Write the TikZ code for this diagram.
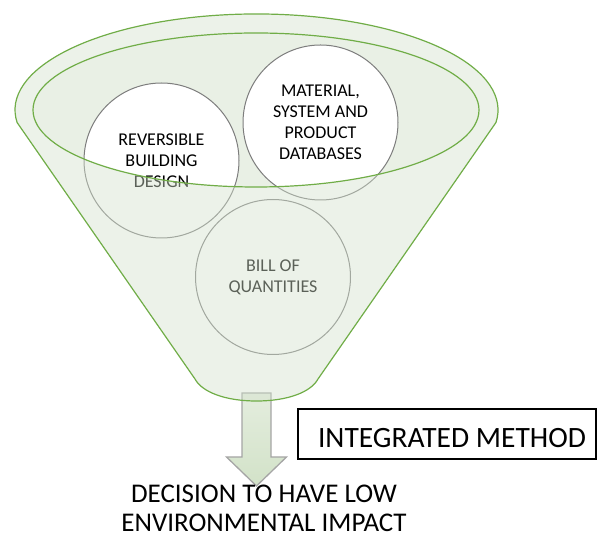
\documentclass[tikz,border=0pt]{standalone}
\usepackage{fontspec}
\setmainfont{Carlito}

\definecolor{funnelgreen}{RGB}{112,173,71}
\definecolor{funnelback}{RGB}{233,240,229}
\definecolor{funnelfront}{RGB}{211,225,204}
\definecolor{bubblegray}{RGB}{125,125,125}
\definecolor{arrowgray}{RGB}{165,165,165}
\definecolor{arrowtop}{RGB}{228,237,222}
\definecolor{arrowbottom}{RGB}{210,226,200}

% outline of the funnel (outer rim, sides and neck)
\newcommand{\funnelpath}{(17.1,415.5) arc[start angle=187.5, end angle=-7.5, x radius=241.5, y radius=96]
  -- (318,159) .. controls (311,146) and (288,137) .. (256.5,137)
  .. controls (225,137) and (202,146) .. (195,159) -- cycle}

\begin{document}
\begin{tikzpicture}[x=1pt, y=1pt, line width=1pt,
  bubble/.style={circle, draw=bubblegray, fill=white, minimum size=155pt, inner sep=0pt,
    align=center, font=\fontsize{18}{21}\selectfont},
  rim/.style={draw=funnelgreen, line width=1.2pt}]

  \useasboundingbox (0,0) rectangle (597,538);

  % Opening of the funnel
  \fill[funnelback] (256,428) ellipse [x radius=223, y radius=77];

  % The three inputs
  \node[bubble] (design) at (161.5,377.5) {REVERSIBLE\\BUILDING\\DESIGN};
  \node[bubble] (databases) at (320.5,415.5) {MATERIAL,\\SYSTEM AND\\PRODUCT\\DATABASES};
  \node[bubble] (quantities) at (273,261) {BILL OF\\QUANTITIES};

  % Output arrow below the neck
  \coordinate (neck) at (256.5,145);
  \draw[arrowgray, line width=1.3pt, top color=arrowtop, bottom color=arrowbottom]
    (neck) ++(-14.5,0) -- ++(0,-64) -- ++(-15.5,0) -- ++(30,-29) -- ++(30,29)
    -- ++(-15.5,0) -- ++(0,64) -- cycle;

  % Front of the funnel (everything outside the opening)
  \fill[funnelfront, fill opacity=0.43, even odd rule] \funnelpath
    (256,428) ellipse [x radius=223, y radius=77];
  \draw[rim] \funnelpath;
  \draw[rim] (256,428) ellipse [x radius=223, y radius=77];

  % Labels
  \node[draw, line width=1.2pt, fill=white, minimum width=298pt, minimum height=50pt,
    inner sep=0pt, text height=28pt, text depth=0pt, font=\fontsize{29.5}{34}\selectfont]
    (method) at (447,104) {\hspace*{10pt}INTEGRATED METHOD};
  \node[align=center, inner sep=0pt, font=\fontsize{27}{29}\selectfont]
    (decision) at (264,30) {DECISION TO HAVE LOW\\ENVIRONMENTAL IMPACT};

\end{tikzpicture}
\end{document}
